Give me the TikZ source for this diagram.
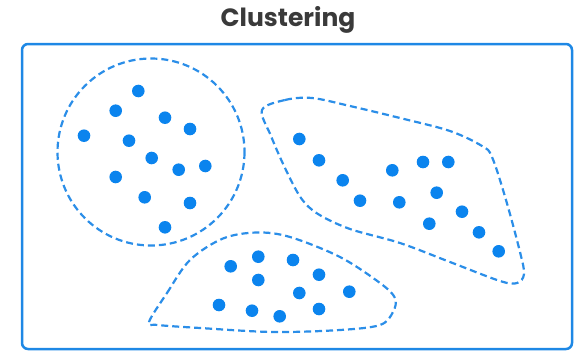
\documentclass[tikz,border=0pt]{standalone}
\usepackage{fontspec}
\newfontfamily\poppins{Poppins}
\definecolor{framec}{HTML}{1E88E5}
\definecolor{dotc}{HTML}{0B84EE}
\definecolor{dashc}{HTML}{2B8EE8}
\definecolor{titlec}{HTML}{3A3A3A}
\tikzset{
  frame/.style={draw=framec, line width=2.5pt, rounded corners=6pt},
  clusterline/.style={draw=dashc, line width=2.2pt, dash pattern=on 7pt off 4pt},
  dotpt/.style={circle, fill=dotc, inner sep=0pt, minimum size=12.6pt},
  titletext/.style={font=\poppins\bfseries\fontsize{25}{30}\selectfont, text=titlec, inner sep=0pt}
}
\begin{document}
\begin{tikzpicture}[x=1pt,y=-1pt]
\useasboundingbox (0,0) rectangle (574,351);
\node[titletext, anchor=base] (title) at (288,26.7) {Clustering};
\draw[frame] (22,44) rectangle (572,349);
% cluster 1: circle
\draw[clusterline] (151,152) circle (93.5);
\foreach \x/\y [count=\i] in {138.3/91, 115.7/110.7, 165/117.7, 190/129, 84/135.7, 129/140.7, 151.7/158, 178.7/169.7, 205.3/166, 115.7/177, 144.7/197.3, 190/203, 165/227.3}
  \node[dotpt] (a\i) at (\x,\y) {};
% cluster 2
\draw[clusterline] plot[smooth cycle, tension=0.55] coordinates {
 (262,110) (285,100) (312,98) (350,106) (400,118) (450,131) (482,146) (492,157)
 (506,200) (520,252) (524,274) (517,283) (500,281) (450,262) (400,243) (350,229)
 (318,214) (301,198) (285,168) (271,136)};
\foreach \x/\y [count=\i] in {299.3/139, 319/160.3, 342.7/180.3, 360/200.7, 392.3/170.3, 399.3/202.3, 423/162, 448.3/162, 436.7/192.7, 462/211.7, 429.3/223.7, 479/232.3, 498.7/251.3}
  \node[dotpt] (b\i) at (\x,\y) {};
% cluster 3
\draw[clusterline] plot[smooth cycle, tension=0.55] coordinates {
 (149,322) (167,293) (190,260) (223,238.5) (257,232.5) (290,237) (340,257)
 (380,283) (395,298) (393,312) (380,325) (340,330) (273,332) (200,328) (158,325)};
\foreach \x/\y [count=\i] in {230.7/266.3, 258.3/256.7, 293/260, 258.3/280, 319/274.7, 299.3/293, 349.3/291.7, 219/305, 252/310.7, 279.7/316.3, 319/309}
  \node[dotpt] (c\i) at (\x,\y) {};
\end{tikzpicture}
\end{document}
